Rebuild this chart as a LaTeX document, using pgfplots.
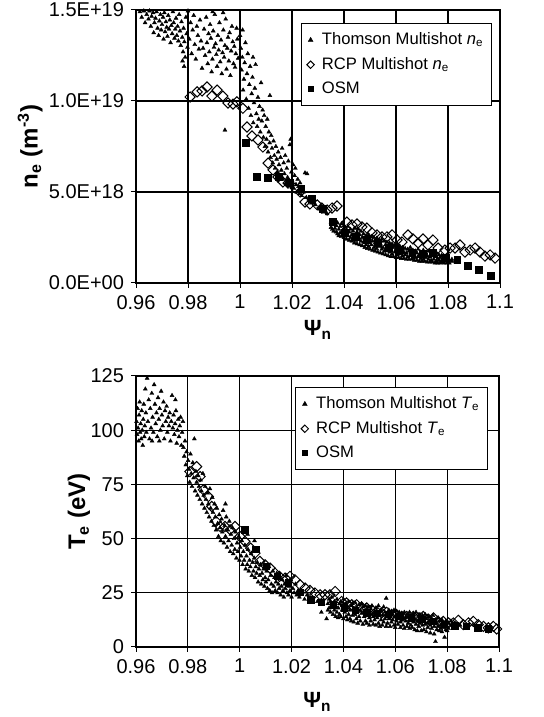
\documentclass[border=0pt]{standalone}
\usepackage{fontspec}
\setmainfont{Liberation Sans}
\usepackage{pgfplots}
\usepackage{pgfplotstable}
\pgfplotsset{compat=1.18}

% densities in units of 1e18 m^-3
\pgfplotstableread[row sep=\\]{x y\\
0.9615 14.9\\ 0.9622 14.6\\ 0.9630 14.95\\ 0.9635 14.3\\ 0.9641 14.75\\ 0.9648 14.5\\ 0.9652 14.95\\ 0.9657 14.1\\
0.9660 14.65\\ 0.9666 14.85\\ 0.9668 13.75\\ 0.9671 14.3\\ 0.9675 14.55\\ 0.9679 14.9\\ 0.9683 14.0\\ 0.9687 13.6\\
0.9690 14.4\\ 0.9694 14.75\\ 0.9697 13.9\\ 0.9700 14.2\\ 0.9704 14.6\\ 0.9706 13.4\\ 0.9709 14.85\\ 0.9712 13.8\\
0.9715 14.35\\ 0.9718 14.05\\ 0.9721 13.55\\ 0.9724 14.7\\ 0.9727 13.95\\ 0.9730 14.45\\ 0.9733 13.2\\ 0.9736 14.15\\
0.9739 13.7\\ 0.9742 14.9\\ 0.9745 14.3\\ 0.9748 13.45\\ 0.9751 13.95\\ 0.9754 14.55\\ 0.9757 13.6\\ 0.9760 14.1\\
0.9763 13.3\\ 0.9766 14.75\\ 0.9769 13.85\\ 0.9772 13.05\\ 0.9775 14.35\\ 0.9778 13.5\\ 0.9781 12.7\\ 0.9783 14.0\\
0.9786 13.25\\ 0.9789 12.4\\ 0.9792 14.6\\ 0.9795 13.7\\ 0.9798 12.95\\ 0.9785 11.9\\ 0.9779 12.2\\ 0.9800 14.95\\
0.9805 13.4\\ 0.9810 14.3\\ 0.9814 12.6\\ 0.9818 13.9\\ 0.9822 14.7\\ 0.9826 13.1\\ 0.9830 12.3\\ 0.9834 14.1\\
0.9838 13.6\\ 0.9842 12.85\\ 0.9846 14.45\\ 0.9850 13.3\\ 0.9854 11.8\\ 0.9858 12.9\\ 0.9862 13.95\\ 0.9866 12.5\\
0.9870 14.6\\ 0.9873 13.2\\ 0.9876 12.05\\ 0.9879 13.7\\ 0.9882 12.7\\ 0.9885 14.2\\ 0.9888 13.45\\ 0.9891 11.6\\
0.9894 12.3\\ 0.9897 13.85\\ 0.9900 12.95\\ 0.9903 14.75\\ 0.9906 13.15\\ 0.9909 12.55\\ 0.9912 11.9\\ 0.9915 13.6\\
0.9918 12.8\\ 0.9921 14.3\\ 0.9924 12.15\\ 0.9927 13.35\\ 0.9930 11.5\\ 0.9933 12.65\\ 0.9936 13.9\\ 0.9939 12.4\\
0.9942 13.05\\ 0.9945 14.5\\ 0.9948 11.75\\ 0.9951 12.9\\ 0.9954 13.5\\ 0.9957 12.2\\ 0.9960 13.75\\ 0.9963 11.4\\
0.9966 12.75\\ 0.9969 14.1\\ 0.9972 13.25\\ 0.9975 12.05\\ 0.9978 13.0\\ 0.9981 11.85\\ 0.9984 12.6\\ 0.9987 14.0\\
0.9990 13.4\\ 0.9993 12.35\\ 0.9942 8.4\\ 0.9895 14.9\\ 0.9935 14.85\\
1.0000 13.6\\ 1.0003 12.9\\ 1.0006 11.7\\ 1.0009 12.4\\ 1.0012 10.6\\ 1.0015 11.2\\ 1.0018 12.1\\ 1.0021 13.2\\
1.0024 10.1\\ 1.0027 11.5\\ 1.0030 12.6\\ 1.0033 9.6\\ 1.0036 10.9\\ 1.0039 11.9\\ 1.0042 9.2\\ 1.0045 10.4\\
1.0048 11.3\\ 1.0051 8.8\\ 1.0054 9.9\\ 1.0057 10.7\\ 1.0060 12.0\\ 1.0063 9.3\\ 1.0066 8.6\\ 1.0069 10.2\\
1.0072 9.0\\ 1.0075 9.7\\ 1.0078 8.3\\ 1.0081 11.0\\ 1.0084 8.9\\ 1.0087 9.5\\ 1.0115 10.3\\ 1.0010 13.9\\ 1.0050 12.4\\
1.0090 8.0\\ 1.0093 9.2\\ 1.0096 7.5\\ 1.0099 8.6\\ 1.0102 7.9\\ 1.0105 9.0\\ 1.0108 7.2\\ 1.0111 8.3\\
1.0114 7.7\\ 1.0117 6.9\\ 1.0120 8.1\\ 1.0123 7.4\\ 1.0126 6.6\\ 1.0129 7.8\\ 1.0132 7.0\\ 1.0135 6.3\\
1.0138 7.5\\ 1.0141 6.8\\ 1.0144 6.1\\ 1.0147 7.2\\ 1.0150 6.5\\ 1.0153 5.9\\ 1.0156 6.9\\ 1.0159 6.2\\
1.0162 7.4\\ 1.0165 5.7\\ 1.0168 6.6\\ 1.0171 6.0\\ 1.0174 7.0\\ 1.0177 5.5\\ 1.0180 6.3\\ 1.0183 5.8\\
1.0186 6.7\\ 1.0189 5.4\\ 1.0192 7.6\\ 1.0195 7.9\\ 1.0198 6.1\\ 1.0201 5.6\\ 1.0204 6.5\\ 1.0207 5.2\\
1.0210 5.9\\ 1.0213 6.3\\ 1.0216 5.4\\ 1.0219 5.0\\ 1.0222 5.7\\ 1.0225 5.3\\ 1.0228 4.9\\ 1.0231 5.5\\
1.0234 5.1\\ 1.0237 4.8\\ 1.0250 6.05\\ 1.0258 6.0\\ 1.0245 5.0\\ 1.0255 4.7\\
1.0265 4.6\\ 1.0275 4.4\\ 1.0290 4.3\\ 1.0305 4.1\\ 1.0320 3.9\\ 1.0335 3.8\\
1.0350 3.05\\ 1.0350 3.35\\ 1.0355 3.2\\ 1.0355 2.95\\ 1.0360 3.4\\ 1.0360 2.85\\ 1.0365 3.0\\ 1.0365 3.25\\
1.0370 2.8\\ 1.0370 3.15\\ 1.0375 3.3\\ 1.0375 2.7\\ 1.0380 2.95\\ 1.0380 2.6\\ 1.0385 3.1\\ 1.0385 2.75\\
1.0390 2.55\\ 1.0390 3.25\\ 1.0395 2.9\\ 1.0395 2.65\\ 1.0400 3.15\\ 1.0400 2.5\\ 1.0405 2.75\\ 1.0405 3.05\\
1.0410 2.4\\ 1.0410 2.9\\ 1.0415 3.1\\ 1.0415 2.6\\ 1.0420 2.35\\ 1.0420 2.8\\ 1.0425 2.95\\ 1.0425 2.5\\
1.0430 2.65\\ 1.0430 2.3\\ 1.0435 2.85\\ 1.0435 2.45\\ 1.0440 2.2\\ 1.0440 3.0\\ 1.0445 2.6\\ 1.0445 2.35\\
1.0450 2.8\\ 1.0450 2.15\\ 1.0455 2.45\\ 1.0455 2.95\\ 1.0460 2.1\\ 1.0460 2.65\\ 1.0465 2.85\\ 1.0465 2.3\\
1.0470 2.05\\ 1.0470 2.5\\ 1.0475 2.7\\ 1.0475 2.25\\ 1.0480 1.95\\ 1.0480 2.45\\ 1.0485 2.6\\ 1.0485 2.1\\
1.0490 2.35\\ 1.0490 1.9\\ 1.0495 2.65\\ 1.0495 2.0\\ 1.0500 1.85\\ 1.0500 2.4\\ 1.0505 2.55\\ 1.0505 2.1\\
1.0510 1.8\\ 1.0510 2.3\\ 1.0515 2.5\\ 1.0515 1.95\\ 1.0520 2.2\\ 1.0520 1.75\\ 1.0525 2.45\\ 1.0525 1.9\\
1.0530 1.7\\ 1.0530 2.25\\ 1.0535 2.35\\ 1.0535 2.0\\ 1.0540 1.65\\ 1.0540 2.15\\ 1.0545 2.4\\ 1.0545 1.85\\
1.0550 1.95\\ 1.0550 1.6\\ 1.0555 2.3\\ 1.0555 1.75\\ 1.0560 1.55\\ 1.0560 2.1\\ 1.0565 2.25\\ 1.0565 1.85\\
1.0570 1.5\\ 1.0570 2.0\\ 1.0575 2.2\\ 1.0575 1.7\\ 1.0580 1.9\\ 1.0580 1.45\\ 1.0585 2.15\\ 1.0585 1.6\\
1.0590 1.45\\ 1.0590 1.95\\ 1.0595 2.05\\ 1.0595 1.7\\ 1.0600 1.4\\ 1.0600 1.85\\ 1.0605 2.1\\ 1.0605 1.55\\
1.0610 1.75\\ 1.0610 1.4\\ 1.0615 2.0\\ 1.0615 1.6\\ 1.0620 1.35\\ 1.0620 1.8\\ 1.0625 1.95\\ 1.0625 1.5\\
1.0630 1.35\\ 1.0630 1.7\\ 1.0635 1.9\\ 1.0635 1.55\\ 1.0640 1.65\\ 1.0640 1.3\\ 1.0645 1.85\\ 1.0645 1.45\\
1.0650 1.3\\ 1.0650 1.75\\ 1.0655 1.95\\ 1.0655 1.5\\ 1.0660 1.3\\ 1.0660 1.6\\ 1.0665 1.8\\ 1.0665 1.4\\
1.0670 1.55\\ 1.0670 1.25\\ 1.0675 1.75\\ 1.0675 1.4\\ 1.0680 1.25\\ 1.0680 1.65\\ 1.0685 1.85\\ 1.0685 1.45\\
1.0690 1.2\\ 1.0690 1.55\\ 1.0695 1.7\\ 1.0695 1.35\\ 1.0700 1.5\\ 1.0700 1.2\\ 1.0705 1.8\\ 1.0705 1.3\\
1.0710 1.2\\ 1.0710 1.6\\ 1.0715 1.65\\ 1.0715 1.4\\ 1.0720 1.15\\ 1.0720 1.5\\ 1.0725 1.75\\ 1.0725 1.3\\
1.0730 1.45\\ 1.0730 1.15\\ 1.0735 1.6\\ 1.0735 1.25\\ 1.0740 1.15\\ 1.0740 1.7\\ 1.0745 1.5\\ 1.0745 1.3\\
1.0750 1.1\\ 1.0750 1.45\\ 1.0755 1.65\\ 1.0755 1.2\\ 1.0760 1.35\\ 1.0760 1.1\\ 1.0765 1.55\\ 1.0765 1.25\\
1.0770 1.1\\ 1.0770 1.4\\ 1.0775 1.5\\ 1.0775 1.2\\ 1.0780 1.15\\ 1.0780 1.35\\ 1.0785 1.45\\ 1.0785 1.1\\
1.0790 1.25\\ 1.0790 1.4\\ 1.0795 1.1\\ 1.0795 1.3\\ 1.0800 1.35\\ 1.0800 1.15\\ 1.0805 1.25\\ 1.0805 1.1\\
1.0815 1.2\\ 1.0815 1.3\\ 1.0830 1.15\\
}\thomsonNe

\pgfplotstableread[row sep=\\]{x y\\
0.9808 10.22\\ 0.9835 10.5\\ 0.9854 10.55\\ 0.9873 10.77\\ 0.9892 10.27\\ 0.9912 10.6\\ 0.9934 10.27\\ 0.9954 9.89\\
0.9973 9.83\\ 0.9988 9.95\\ 1.0011 9.6\\ 1.0027 8.57\\ 1.0046 8.08\\ 1.0069 7.86\\ 1.0088 7.47\\ 1.0108 6.59\\
1.0127 6.21\\ 1.0146 5.82\\ 1.0165 5.55\\ 1.0185 5.49\\ 1.0212 5.22\\ 1.0231 5.0\\ 1.0250 4.45\\ 1.0269 4.34\\
1.0297 4.29\\ 1.0315 4.12\\ 1.0335 4.01\\ 1.0354 4.12\\ 1.0373 4.23\\ 1.0411 3.35\\ 1.0431 3.19\\ 1.0450 3.24\\
1.0469 3.08\\ 1.0488 3.02\\ 1.0508 2.75\\ 1.0527 2.64\\ 1.0546 2.53\\ 1.0565 2.53\\ 1.0585 2.64\\ 1.0604 2.36\\
1.0623 2.25\\ 1.0646 2.64\\ 1.0665 2.42\\ 1.0685 2.2\\ 1.0704 2.42\\ 1.0723 2.09\\ 1.0742 2.36\\ 1.0762 1.92\\
1.0788 1.81\\ 1.0808 1.92\\ 1.0827 1.92\\ 1.0846 2.09\\ 1.0865 1.70\\ 1.0885 1.81\\ 1.0904 1.92\\ 1.0923 1.70\\
1.0942 1.48\\ 1.0962 1.54\\ 1.0981 1.37\\
}\rcpNe

\pgfplotstableread[row sep=\\]{x y\\
1.0023 7.69\\ 1.0065 5.82\\ 1.0108 5.77\\ 1.0150 5.82\\ 1.0192 5.49\\ 1.0235 5.16\\ 1.0277 4.62\\ 1.0319 4.07\\
1.0358 3.35\\ 1.0404 2.75\\ 1.0446 2.53\\ 1.0488 2.36\\ 1.0531 2.2\\ 1.0573 1.92\\ 1.0615 1.81\\ 1.0662 1.65\\
1.0704 1.59\\ 1.0742 1.65\\ 1.0792 1.37\\ 1.0835 1.26\\ 1.0877 0.93\\ 1.0919 0.71\\ 1.0965 0.38\\
}\osmNe

% temperatures in eV
\pgfplotstableread[row sep=\\]{x y\\
0.9602 104\\ 0.9604 98\\ 0.9606 110\\ 0.9608 101\\ 0.9610 95\\ 0.9612 107\\ 0.9614 113\\ 0.9616 99\\
0.9618 103\\ 0.9620 96\\ 0.9622 109\\ 0.9624 100\\ 0.9626 93\\ 0.9628 105\\ 0.9630 112\\ 0.9632 97\\
0.9634 102\\ 0.9636 119\\ 0.9638 108\\ 0.9640 99\\ 0.9643 124\\ 0.9646 104\\ 0.9649 114\\ 0.9652 96\\
0.9655 110\\ 0.9658 101\\ 0.9661 117\\ 0.9664 106\\ 0.9667 99\\ 0.9670 121\\ 0.9673 112\\ 0.9676 103\\
0.9679 108\\ 0.9682 97\\ 0.9685 115\\ 0.9688 105\\ 0.9691 110\\ 0.9694 100\\ 0.9697 118\\ 0.9700 107\\
0.9703 102\\ 0.9706 113\\ 0.9709 96\\ 0.9712 109\\ 0.9715 104\\ 0.9718 111\\ 0.9721 99\\ 0.9724 106\\
0.9727 102\\ 0.9730 108\\ 0.9733 95\\ 0.9736 104\\ 0.9739 116\\ 0.9742 101\\ 0.9745 107\\ 0.9748 98\\
0.9751 103\\ 0.9754 109\\ 0.9757 94\\ 0.9760 100\\ 0.9763 105\\ 0.9766 97\\ 0.9769 102\\ 0.9772 106\\
0.9775 93\\ 0.9778 99\\ 0.9781 104\\ 0.9662 95\\ 0.9690 95\\ 0.9752 114\\
0.9783 92\\ 0.9786 88\\ 0.9789 95\\ 0.9792 84\\ 0.9795 90\\ 0.9798 79\\ 0.9801 86\\ 0.9804 82\\
0.9807 76\\ 0.9810 89\\ 0.9813 80\\ 0.9816 74\\ 0.9819 85\\ 0.9822 78\\ 0.9825 96\\ 0.9828 72\\
0.9831 81\\ 0.9834 76\\ 0.9837 70\\ 0.9840 79\\ 0.9843 74\\ 0.9846 68\\ 0.9849 77\\ 0.9852 72\\
0.9855 66\\ 0.9858 80\\ 0.9861 70\\ 0.9864 64\\ 0.9867 74\\ 0.9870 68\\ 0.9873 62\\ 0.9876 71\\
0.9879 66\\ 0.9882 60\\ 0.9885 73\\ 0.9888 64\\ 0.9891 58\\ 0.9894 69\\ 0.9897 62\\ 0.9900 56\\ 0.9903 66\\
0.9906 60\\ 0.9909 54\\ 0.9912 64\\ 0.9915 57\\ 0.9918 51\\ 0.9921 61\\ 0.9924 55\\ 0.9927 49\\
0.9930 59\\ 0.9933 53\\ 0.9936 63\\ 0.9939 48\\ 0.9942 56\\ 0.9945 51\\ 0.9948 60\\ 0.9951 46\\
0.9954 54\\ 0.9957 49\\ 0.9960 58\\ 0.9963 44\\ 0.9966 52\\ 0.9969 47\\ 0.9972 55\\ 0.9975 43\\
0.9978 50\\ 0.9981 45\\ 0.9984 53\\ 0.9987 41\\ 0.9990 48\\ 0.9993 44\\ 0.9996 51\\ 0.9999 40\\
1.0002 46\\ 1.0005 42\\ 1.0008 49\\ 1.0011 38\\ 1.0014 44\\ 1.0017 40\\ 1.0020 47\\ 1.0023 36\\
1.0026 42\\ 1.0029 38\\ 1.0032 45\\ 1.0035 35\\ 1.0038 40\\ 1.0041 37\\ 1.0044 43\\ 1.0047 33\\
1.0050 39\\ 1.0053 35\\ 1.0056 41\\ 1.0059 32\\ 1.0062 37\\ 1.0065 34\\ 1.0068 39\\ 1.0071 30\\
1.0074 36\\ 1.0077 33\\ 1.0080 38\\ 1.0083 29\\ 1.0086 34\\ 1.0089 31\\ 1.0092 36\\ 1.0095 28\\
1.0098 32\\ 1.0101 30\\ 0.9945 66\\ 1.0057 49\\ 1.0030 52\\
1.0104 35\\ 1.0107 27\\ 1.0110 31\\ 1.0113 37\\ 1.0116 26\\ 1.0119 33\\ 1.0122 29\\ 1.0125 25\\
1.0128 35\\ 1.0131 28\\ 1.0134 32\\ 1.0137 26\\ 1.0140 30\\ 1.0143 34\\ 1.0146 25\\ 1.0149 29\\
1.0152 27\\ 1.0155 32\\ 1.0158 24\\ 1.0161 28\\ 1.0164 31\\ 1.0167 26\\ 1.0170 23\\ 1.0173 29\\
1.0176 27\\ 1.0179 33\\ 1.0182 25\\ 1.0185 30\\ 1.0188 24\\ 1.0191 28\\ 1.0194 26\\ 1.0197 31\\
1.0200 23\\ 1.0205 27\\ 1.0210 25\\ 1.0215 29\\ 1.0220 24\\ 1.0225 26\\ 1.0230 23\\ 1.0240 25\\
1.0250 22\\ 1.0260 24\\ 1.0280 22\\ 1.0300 21\\ 1.0315 16\\ 1.0335 13\\
1.0340 20\\ 1.0340 17\\ 1.0345 22\\ 1.0345 18\\ 1.0350 16\\ 1.0350 21\\ 1.0355 19\\ 1.0355 23\\
1.0360 15\\ 1.0360 20\\ 1.0365 21\\ 1.0365 17\\ 1.0370 14\\ 1.0370 19\\ 1.0375 22\\ 1.0375 16\\
1.0380 18\\ 1.0380 13.5\\ 1.0385 20\\ 1.0385 15\\ 1.0390 14\\ 1.0390 21\\ 1.0395 17\\ 1.0395 19\\
1.0400 13\\ 1.0400 22\\ 1.0405 16\\ 1.0405 19.5\\ 1.0410 20\\ 1.0410 14\\ 1.0415 12.5\\ 1.0415 18\\
1.0420 21\\ 1.0420 15\\ 1.0425 17\\ 1.0425 13\\ 1.0430 19\\ 1.0430 12\\ 1.0435 14.5\\ 1.0435 20\\
1.0440 11.5\\ 1.0440 17.5\\ 1.0445 20.5\\ 1.0445 15\\ 1.0450 13\\ 1.0450 18\\ 1.0455 16.5\\ 1.0455 11\\
1.0460 19.5\\ 1.0460 14\\ 1.0465 12\\ 1.0465 17\\ 1.0470 20\\ 1.0470 15.5\\ 1.0475 10.5\\ 1.0475 18.5\\
1.0480 14\\ 1.0480 16\\ 1.0485 19\\ 1.0485 12\\ 1.0490 11\\ 1.0490 17\\ 1.0495 15\\ 1.0495 18.5\\
1.0500 10\\ 1.0500 13.5\\ 1.0505 17.5\\ 1.0505 12\\ 1.0510 19\\ 1.0510 15\\ 1.0515 10.5\\ 1.0515 14\\
1.0520 16.5\\ 1.0520 12.5\\ 1.0525 18\\ 1.0525 10\\ 1.0530 13.5\\ 1.0530 16\\ 1.0535 11\\ 1.0535 19\\
1.0540 15\\ 1.0540 9.5\\ 1.0545 17\\ 1.0545 12.5\\ 1.0550 10\\ 1.0550 14.5\\ 1.0555 18.5\\ 1.0555 11.5\\
1.0560 13\\ 1.0560 16\\ 1.0565 9.5\\ 1.0565 22.5\\ 1.0570 15.5\\ 1.0570 11\\ 1.0575 17\\ 1.0575 13\\
1.0580 9.5\\ 1.0580 14.5\\ 1.0585 16.5\\ 1.0585 11.5\\ 1.0590 12.5\\ 1.0590 15\\ 1.0595 10\\ 1.0595 17\\
1.0600 14\\ 1.0600 9\\ 1.0605 16.5\\ 1.0605 12\\ 1.0610 10.5\\ 1.0610 14.5\\ 1.0615 13\\ 1.0615 16\\
1.0620 9\\ 1.0620 11.5\\ 1.0625 15.5\\ 1.0625 12.5\\ 1.0630 10\\ 1.0630 14\\ 1.0635 16\\ 1.0635 8.5\\
1.0640 12\\ 1.0640 13.5\\ 1.0645 9.5\\ 1.0645 15\\ 1.0650 11\\ 1.0650 14\\ 1.0655 16\\ 1.0655 8.5\\
1.0660 12.5\\ 1.0660 10\\ 1.0665 14.5\\ 1.0665 9\\ 1.0670 11.5\\ 1.0670 15.5\\ 1.0675 8\\ 1.0675 13\\
1.0680 16\\ 1.0680 10.5\\ 1.0685 12\\ 1.0685 7.5\\ 1.0690 14.5\\ 1.0690 9.5\\ 1.0695 11\\ 1.0695 15\\
1.0700 7.5\\ 1.0700 13\\ 1.0705 10\\ 1.0705 14.5\\ 1.0710 12\\ 1.0710 8\\ 1.0715 15\\ 1.0715 10.5\\
1.0720 7\\ 1.0720 13\\ 1.0725 11\\ 1.0725 9\\ 1.0730 14\\ 1.0730 12\\ 1.0735 6.5\\ 1.0735 10\\
1.0740 13\\ 1.0740 8.5\\ 1.0745 11.5\\ 1.0745 14.5\\ 1.0750 6\\ 1.0750 9.5\\ 1.0755 12.5\\ 1.0755 2.5\\
1.0760 8\\ 1.0760 11\\ 1.0765 13.5\\ 1.0765 9.5\\ 1.0770 7.5\\ 1.0770 12\\ 1.0775 10\\ 1.0775 8.5\\
1.0780 12.5\\ 1.0780 7\\ 1.0785 9\\ 1.0785 11\\ 1.0790 4.5\\ 1.0790 10\\ 1.0795 12\\ 1.0795 8\\
1.0800 9.5\\ 1.0800 7.5\\ 1.0805 11\\ 1.0805 8.5\\ 1.0815 10\\ 1.0815 12\\ 1.0830 9\\ 1.0830 11\\ 1.0850 10\\
}\thomsonTe

\pgfplotstableread[row sep=\\]{x y\\
0.9808 80.9\\ 0.9834 83.2\\ 0.9847 78.6\\ 0.9860 72.5\\ 0.9879 69.4\\ 0.9892 64.8\\ 0.9909 57.9\\ 0.9924 55.6\\
0.9943 55.6\\ 0.9963 54.1\\ 0.9982 55.6\\ 1.0001 51.0\\ 1.0020 48.7\\ 1.0042 45.6\\ 1.0059 43.3\\ 1.0078 39.5\\
1.0098 37.9\\ 1.0117 36.4\\ 1.0136 34.1\\ 1.0153 32.6\\ 1.0175 31.8\\ 1.0194 32.6\\ 1.0213 31.0\\ 1.0233 28.7\\
1.0252 27.2\\ 1.0271 26.1\\ 1.0290 24.9\\ 1.0310 24.1\\ 1.0329 24.1\\ 1.0348 24.1\\ 1.0368 25.6\\ 1.0393 21.0\\
1.0412 20.3\\ 1.0432 19.5\\ 1.0451 19.5\\ 1.0470 18.4\\ 1.0490 18.0\\ 1.0509 17.2\\ 1.0528 16.4\\ 1.0547 15.7\\
1.0567 16.0\\ 1.0586 14.9\\ 1.0605 14.9\\ 1.0625 14.1\\ 1.0644 14.1\\ 1.0669 14.1\\ 1.0689 13.4\\ 1.0708 14.1\\
1.0727 12.9\\ 1.0747 13.4\\ 1.0766 11.8\\ 1.0785 11.8\\ 1.0805 11.1\\ 1.0824 11.1\\ 1.0843 12.3\\ 1.0862 10.3\\
1.0882 11.1\\ 1.0901 11.8\\ 1.0920 10.3\\ 1.0940 9.5\\ 1.0959 8.8\\ 1.0978 9.5\\ 1.0991 8.3\\
}\rcpTe

\pgfplotstableread[row sep=\\]{x y\\
1.0020 54.1\\ 1.0063 45.1\\ 1.0104 37.2\\ 1.0146 32.6\\ 1.0188 29.5\\ 1.0233 25.2\\ 1.0275 21.8\\ 1.0316 20.6\\
1.0361 19.5\\ 1.0403 18.0\\ 1.0446 16.9\\ 1.0490 15.7\\ 1.0532 15.4\\ 1.0573 14.9\\ 1.0618 14.1\\ 1.0661 13.4\\
1.0702 12.6\\ 1.0747 11.8\\ 1.0789 10.3\\ 1.0830 9.8\\ 1.0875 9.5\\ 1.0918 8.8\\ 1.0959 8.3\\
}\osmTe

\pgfplotsset{
  panel/.style={
    scale only axis,
    xmin=0.96, xmax=1.1,
    xtick={0.96,0.98,1,1.02,1.04,1.06,1.08,1.1},
    xticklabels={0.96,0.98,1,1.02,1.04,1.06,1.08,1.1},
    grid=major,
    grid style={black, line width=0.55pt},
    axis line style={line width=0.6pt},
    tick pos=left, tick align=outside,
    major tick length=2.5pt,
    tick style={black, line width=0.5pt},
    tick label style={font=\fontsize{10}{12}\selectfont},
    /pgf/number format/assume math mode=true,
    xlabel={\textbf{Ψ\textsubscript{n}}},
    xlabel style={font=\fontsize{11}{13}\selectfont},
    ylabel style={font=\fontsize{12}{14}\selectfont, anchor=center},
    legend cell align=left,
    legend style={draw=black, line width=0.5pt, fill=white,
      font=\fontsize{8.3}{10}\selectfont, row sep=0.8pt,
      inner xsep=2pt, inner ysep=2.5pt},
    legend image code/.code={\path (0cm,0cm) (0.2cm,0cm);
      \draw[mark repeat=1,##1] plot coordinates {(0.08cm,0cm)};},
  },
  thom/.style={only marks, mark=triangle*, mark size=1.15pt, black,
    mark options={line width=0.2pt}, legend image post style={mark size=1.4pt}},
  rcp/.style={only marks, mark=square, mark size=1.8pt, black,
    mark options={rotate=45, line width=0.5pt}, legend image post style={mark size=1.3pt}},
  osm/.style={only marks, mark=square*, mark size=1.6pt, black,
    legend image post style={mark size=1.3pt}},
}

\begin{document}
\begin{tikzpicture}
\path[use as bounding box] (0,0) rectangle (271.5pt,358.5pt);

\begin{axis}[panel,
  at={(68pt,217pt)}, anchor=south west,
  width=182pt, height=136.5pt,
  ymin=0, ymax=15,
  ytick={0,5,10,15},
  yticklabels={0.0E+00,5.0E+18,1.0E+19,1.5E+19},
  ylabel={\textbf{n\textsubscript{e} (m\textsuperscript{-3})}},
  ylabel style={at={(axis description cs:-0.291,0.5)}},
  xlabel style={at={(axis description cs:0.5,-0.172)}, anchor=center},
  legend style={at={(axis description cs:0.978,0.952)}, anchor=north east},
]
\addplot[thom] table {\thomsonNe};
\addplot[rcp] table {\rcpNe};
\addplot[osm] table {\osmNe};
\legend{Thomson Multishot \textit{n}\textsubscript{e}, RCP Multishot \textit{n}\textsubscript{e}, OSM}
\end{axis}

\begin{axis}[panel,
  at={(68pt,35pt)}, anchor=south west,
  width=181.5pt, height=135.5pt,
  ymin=0, ymax=125,
  ytick={0,25,50,75,100,125},
  ylabel={\textbf{T\textsubscript{e} (eV)}},
  ylabel style={at={(axis description cs:-0.157,0.5)}},
  xlabel style={at={(axis description cs:0.5,-0.203)}, anchor=center},
  legend style={at={(axis description cs:0.970,0.959)}, anchor=north east},
]
\addplot[thom] table {\thomsonTe};
\addplot[rcp] table {\rcpTe};
\addplot[osm] table {\osmTe};
\legend{Thomson Multishot \textit{T}\textsubscript{e}, RCP Multishot \textit{T}\textsubscript{e}, OSM}
\end{axis}
\end{tikzpicture}
\end{document}
